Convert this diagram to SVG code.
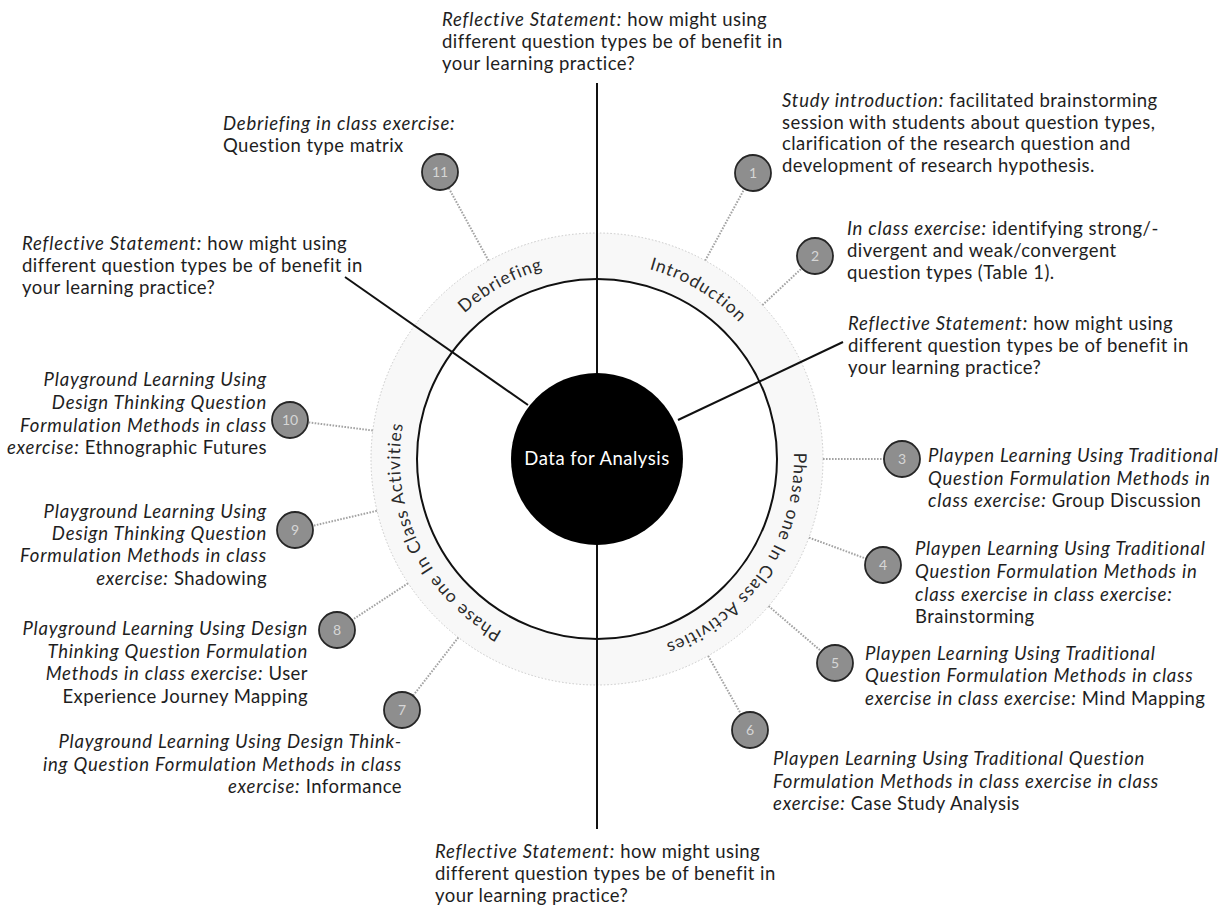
<svg xmlns="http://www.w3.org/2000/svg" width="1228" height="912" viewBox="0 0 1228 912">
<style>
text{font-family:Lato,"Liberation Sans",sans-serif;font-size:18.5px;fill:#1e1e1e;letter-spacing:0.45px}
.i{font-style:italic;letter-spacing:0.8px}
.e{text-anchor:end}
.ring-label{font-size:17.5px;fill:#2a2a2a;letter-spacing:1px}
.badge circle{fill:#8e8e8e;stroke:#262626;stroke-width:1.8}
.badge text{font-size:14px;fill:#d6d6d6;text-anchor:middle;letter-spacing:0}
.dot{stroke:#a3a3a3;stroke-width:2;stroke-dasharray:1.6 1.4;fill:none}
.solid{stroke:#111;stroke-width:2;fill:none}
</style>
<defs>
<path id="ringPath" d="M597,656 A197,197 0 1,1 597,262 A197,197 0 1,1 597,656"/>
</defs>
<rect width="1228" height="912" fill="#ffffff"/>

<g id="ring">
<circle cx="597" cy="459" r="226" fill="#f8f8f8" stroke="#c9c9c9" stroke-width="1" stroke-dasharray="1.5 2"/>
<circle cx="597" cy="459" r="180" fill="#ffffff" stroke="#111" stroke-width="2"/>
<text class="ring-label" text-anchor="middle"><textPath href="#ringPath" startOffset="519">Debriefing</textPath></text>
<text class="ring-label" text-anchor="middle"><textPath href="#ringPath" startOffset="725">Introduction</textPath></text>
<text class="ring-label" text-anchor="middle"><textPath href="#ringPath" startOffset="1045">Phase one In Class Activities</textPath></text>
<text class="ring-label" text-anchor="middle"><textPath href="#ringPath" startOffset="222">Phase one In Class Activities</textPath></text>
</g>

<g id="connectors">
<line class="solid" x1="597" y1="83" x2="597" y2="829"/>
<line class="solid" x1="345" y1="277" x2="528" y2="405"/>
<line class="solid" x1="843" y1="342" x2="678" y2="420"/>
<line class="dot" x1="488.5" y1="260.6" x2="448.6" y2="187.8"/>
<line class="dot" x1="705.2" y1="260.6" x2="744.4" y2="188.8"/>
<line class="dot" x1="762.4" y1="305.1" x2="801.8" y2="268.3"/>
<line class="dot" x1="372.8" y1="430.5" x2="307.9" y2="422.3"/>
<line class="dot" x1="823" y1="459" x2="884" y2="459"/>
<line class="dot" x1="376.8" y1="510.8" x2="312.5" y2="525.9"/>
<line class="dot" x1="809" y1="537.6" x2="866.1" y2="558.7"/>
<line class="dot" x1="408" y1="583.3" x2="352" y2="620.1"/>
<line class="dot" x1="768.6" y1="606.1" x2="821.3" y2="651.3"/>
<line class="dot" x1="458.3" y1="637.5" x2="413" y2="695.8"/>
<line class="dot" x1="708.2" y1="655.9" x2="741.1" y2="714.3"/>
</g>

<g id="center">
<circle cx="597" cy="459" r="86" fill="#000"/>
<text x="597" y="465" text-anchor="middle" style="fill:#fff;font-size:18.5px;letter-spacing:0.5px">Data for Analysis</text>
</g>

<g id="reflective-top">
<text x="442" y="26"><tspan class="i">Reflective Statement:</tspan> how might using</text>
<text x="442" y="48">different question types be of benefit in</text>
<text x="442" y="70">your learning practice?</text>
</g>
<g id="reflective-left">
<text x="22" y="250"><tspan class="i">Reflective Statement:</tspan> how might using</text>
<text x="22" y="272">different question types be of benefit in</text>
<text x="22" y="294">your learning practice?</text>
</g>
<g id="reflective-right">
<text x="848" y="330"><tspan class="i">Reflective Statement:</tspan> how might using</text>
<text x="848" y="352">different question types be of benefit in</text>
<text x="848" y="374">your learning practice?</text>
</g>
<g id="reflective-bottom">
<text x="435" y="858"><tspan class="i">Reflective Statement:</tspan> how might using</text>
<text x="435" y="880">different question types be of benefit in</text>
<text x="435" y="902">your learning practice?</text>
</g>

<g id="node-11">
<g class="badge"><circle cx="440" cy="172" r="18"/><text x="440" y="177">11</text></g>
<text x="223" y="130" class="i">Debriefing in class exercise:</text>
<text x="223" y="152">Question type matrix</text>
</g>

<g id="node-1">
<g class="badge"><circle cx="753" cy="173" r="18"/><text x="753" y="178">1</text></g>
<text x="782" y="107"><tspan class="i">Study introduction:</tspan> facilitated brainstorming</text>
<text x="782" y="128.5">session with students about question types,</text>
<text x="782" y="150">clarification of the research question and</text>
<text x="782" y="171.5">development of research hypothesis.</text>
</g>

<g id="node-2">
<g class="badge"><circle cx="815" cy="256" r="18"/><text x="815" y="261">2</text></g>
<text x="847" y="235"><tspan class="i">In class exercise:</tspan> identifying strong/-</text>
<text x="847" y="257">divergent and weak/convergent</text>
<text x="847" y="279">question types (Table 1).</text>
</g>

<g id="node-10">
<g class="badge"><circle cx="290" cy="420" r="18"/><text x="290" y="425">10</text></g>
<text x="267" y="386" class="e i">Playground Learning Using</text>
<text x="267" y="409" class="e i">Design Thinking Question</text>
<text x="267" y="431.5" class="e i">Formulation Methods in class</text>
<text x="267" y="454" class="e"><tspan class="i">exercise:</tspan> Ethnographic Futures</text>
</g>

<g id="node-3">
<g class="badge"><circle cx="902" cy="459" r="18"/><text x="902" y="464">3</text></g>
<text x="928" y="462" class="i">Playpen Learning Using Traditional</text>
<text x="928" y="485" class="i">Question Formulation Methods in</text>
<text x="928" y="507"><tspan class="i">class exercise:</tspan> Group Discussion</text>
</g>

<g id="node-9">
<g class="badge"><circle cx="295" cy="530" r="18"/><text x="295" y="535">9</text></g>
<text x="267" y="518" class="e i">Playground Learning Using</text>
<text x="267" y="540" class="e i">Design Thinking Question</text>
<text x="267" y="562" class="e i">Formulation Methods in class</text>
<text x="267" y="585" class="e"><tspan class="i">exercise:</tspan> Shadowing</text>
</g>

<g id="node-4">
<g class="badge"><circle cx="883" cy="565" r="18"/><text x="883" y="570">4</text></g>
<text x="915" y="555" class="i">Playpen Learning Using Traditional</text>
<text x="915" y="578" class="i">Question Formulation Methods in</text>
<text x="915" y="601" class="i">class exercise in class exercise:</text>
<text x="915" y="623">Brainstorming</text>
</g>

<g id="node-8">
<g class="badge"><circle cx="337" cy="630" r="18"/><text x="337" y="635">8</text></g>
<text x="308" y="635" class="e i">Playground Learning Using Design</text>
<text x="308" y="658" class="e i">Thinking Question Formulation</text>
<text x="308" y="680" class="e"><tspan class="i">Methods in class exercise:</tspan> User</text>
<text x="308" y="703" class="e">Experience Journey Mapping</text>
</g>

<g id="node-5">
<g class="badge"><circle cx="835" cy="663" r="18"/><text x="835" y="668">5</text></g>
<text x="865" y="660" class="i">Playpen Learning Using Traditional</text>
<text x="865" y="682" class="i">Question Formulation Methods in class</text>
<text x="865" y="705"><tspan class="i">exercise in class exercise:</tspan> Mind Mapping</text>
</g>

<g id="node-7">
<g class="badge"><circle cx="402" cy="710" r="18"/><text x="402" y="715">7</text></g>
<text x="402" y="748" class="e i">Playground Learning Using Design Think-</text>
<text x="402" y="771" class="e i">ing Question Formulation Methods in class</text>
<text x="402" y="793" class="e"><tspan class="i">exercise:</tspan> Informance</text>
</g>

<g id="node-6">
<g class="badge"><circle cx="750" cy="730" r="18"/><text x="750" y="735">6</text></g>
<text x="773" y="765" class="i">Playpen Learning Using Traditional Question</text>
<text x="773" y="788" class="i">Formulation Methods in class exercise in class</text>
<text x="773" y="810"><tspan class="i">exercise:</tspan> Case Study Analysis</text>
</g>
</svg>
